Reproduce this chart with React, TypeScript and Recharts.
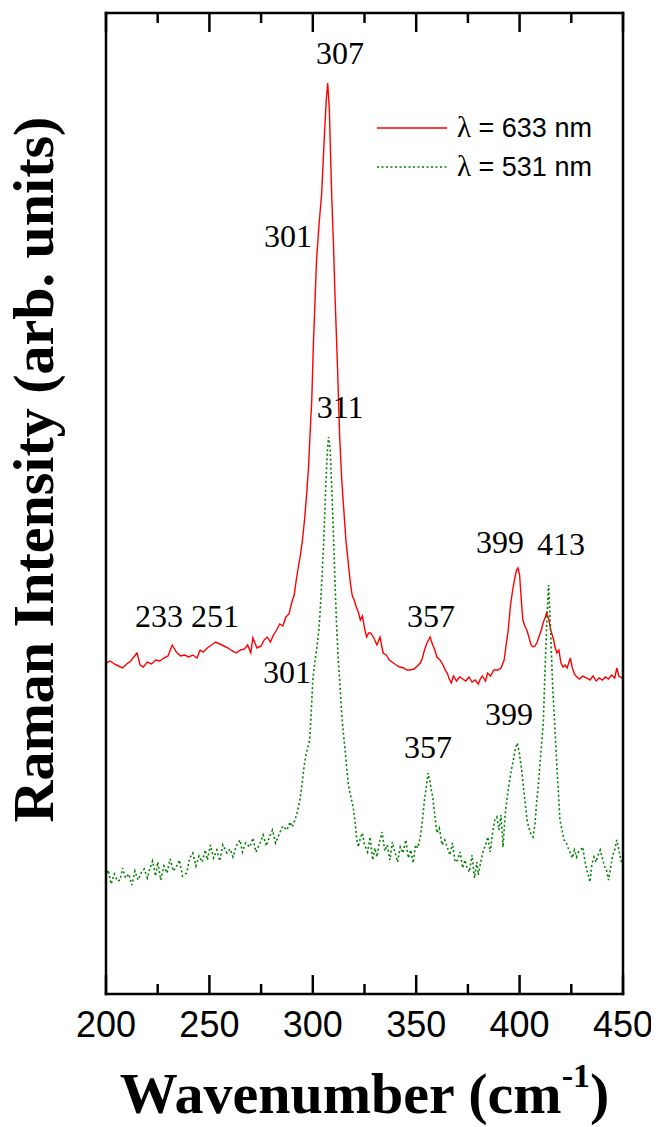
import React from 'react';
import { LineChart, Line, XAxis, YAxis, ReferenceDot, ReferenceArea, Legend } from 'recharts';

// ---- Data (wavenumber in cm^-1, intensity in arb. units) ----
const redWavenumber = [
  200, 202, 204, 206, 208, 210, 212, 213, 215, 216.5, 218, 220, 222, 224, 226, 228, 230, 232, 234, 236,
  238, 240, 242, 244, 245.5, 247, 249, 251, 253, 255, 257, 259, 261, 263, 265, 267, 268.5, 270, 271, 273,
  275, 276.5, 278, 279.5, 281, 282.5, 284, 285.5, 287, 288.5, 290, 291, 292, 293, 294, 295, 296, 297, 298, 298.6,
  299.5, 300.3, 301, 301.8, 303, 304.3, 305.5, 306.5, 307.2, 308, 309.1, 310, 310.7, 312, 313, 314, 315, 316, 317, 318,
  319, 320, 321, 322, 323, 324, 325, 326, 327, 328, 329.5, 331, 332.5, 334, 335.5, 337, 339, 341, 342, 344,
  345.5, 347, 349, 350.5, 352, 353, 354, 355, 356.7, 358, 359, 360, 361.5, 363, 364, 365, 366, 367, 368, 369.5,
  371, 372.5, 374, 375.5, 377, 378.5, 380, 381, 382, 383.5, 384.5, 386, 387.5, 389.5, 391, 392.5, 393.5, 394.5, 395.5, 396.5,
  397.5, 398.5, 399.2, 400, 401, 401.6, 402.5, 403.5, 404.5, 405.5, 406.5, 407.5, 408.5, 409.5, 410.5, 411.5, 412.5, 413, 414, 415,
  415.5, 416.5, 417, 418, 419, 420, 421, 422, 423, 424.5, 425.5, 426.5, 427.7, 429, 430.5, 432.5, 434, 435.5, 437, 438.5,
  440, 441.5, 443, 444.5, 446, 447, 448, 449.5, 450,
];
const redIntensity = [
  331, 333, 330, 328, 326, 330, 333, 336, 341, 329, 327, 332, 330, 334, 333, 336, 338, 349, 342, 338,
  339, 337, 339, 336, 344, 342, 346, 349, 352, 350, 348, 346, 343, 341, 344, 345, 349, 341, 356, 346,
  348, 354, 357, 352, 359, 364, 370, 368, 377, 380, 393, 399, 414, 427, 439, 454, 474, 499, 529, 557,
  594, 651, 689, 734, 769, 801, 854, 894, 911, 884, 801, 749, 701, 624, 557, 514, 484, 454, 434, 414,
  399, 394, 387, 382, 374, 378, 366, 357, 361, 361, 356, 349, 357, 341, 339, 334, 331, 328, 327, 326,
  324, 324, 325, 328, 331, 336, 344, 350, 357, 349, 344, 337, 334, 329, 324, 321, 315, 311, 318, 313,
  317, 315, 313, 317, 312, 314, 310, 315, 318, 313, 321, 318, 324, 324, 326, 334, 349, 364, 387, 402,
  414, 424, 426, 419, 389, 374, 368, 364, 357, 349, 347, 348, 352, 358, 364, 372, 377, 381, 376, 364,
  361, 354, 348, 341, 344, 331, 327, 329, 326, 336, 326, 320, 317, 315, 318, 316, 314, 318, 313, 316,
  314, 317, 315, 319, 316, 326, 318, 316, 317,
];

const greenWavenumber = [
  200, 201, 202.5, 204, 205.5, 206.8, 208, 209.5, 211, 212.5, 214, 215.5, 217, 218.5, 220, 221, 222.5, 224, 225, 226.5,
  228, 229.5, 231, 232.5, 234, 235.5, 237, 239, 240.5, 242, 243.5, 245, 246.5, 248, 249, 250.5, 252, 253.6, 255, 256.5,
  258.5, 260, 261.4, 263, 264.8, 266, 267.5, 269.6, 271, 272.5, 274.5, 276, 277.5, 279, 280.5, 282, 284, 285.5, 287.5, 289,
  290, 291.4, 292.5, 293.8, 295, 296, 297, 298.5, 299.3, 300, 301, 302, 303, 303.5, 304.4, 305.3, 306.2, 307, 307.6, 308.4,
  309.2, 310, 310.7, 311.5, 312.3, 313, 314, 315, 315.5, 316.5, 317.2, 318, 319.5, 320.5, 321.3, 322, 323, 324, 325, 326.5,
  327.7, 329, 330, 331, 332.2, 333.5, 334.8, 336, 337.3, 338.5, 339.8, 341, 342.3, 343.6, 345, 346.2, 347.4, 348.5, 349.7, 350.8,
  352, 353, 354, 355, 355.7, 356.5, 357.3, 358, 359, 360, 361.2, 362.5, 363.8, 365, 366.3, 367.5, 368.8, 370, 371.2, 372.5,
  373.6, 374.5, 375.7, 377, 378.2, 379.3, 380, 381.2, 382.5, 383.6, 384.6, 385.8, 387, 388, 389, 390, 391, 392, 393, 394,
  395, 396, 397, 398, 398.9, 399.8, 401, 402, 402.7, 403.6, 404.5, 405.5, 406.5, 407.5, 408.3, 409, 410, 411, 411.5, 412.3,
  413.2, 414, 414.8, 415.5, 416, 417, 418, 419.5, 420.5, 421.5, 422.5, 423.5, 424.5, 425.5, 426.5, 427.5, 428.5, 429.5, 430.5, 431.5,
  432.5, 433.2, 434, 435, 436, 437, 438, 439, 440, 441, 442, 443, 444, 445, 446, 447, 448, 449, 449.5, 450,
];
const greenIntensity = [
  117, 124, 110, 120, 113, 114, 126, 116, 120, 109, 123, 114, 121, 125, 116, 124, 133, 118, 132, 114,
  128, 121, 135, 123, 127, 134, 118, 121, 136, 141, 128, 138, 132, 144, 134, 149, 136, 144, 133, 149,
  141, 145, 137, 148, 154, 142, 151, 147, 156, 142, 151, 159, 148, 157, 164, 151, 161, 168, 164, 172,
  167, 174, 182, 194, 214, 231, 242, 254, 284, 314, 332, 347, 366, 381, 414, 454, 504, 542, 557, 544,
  504, 459, 414, 369, 334, 314, 279, 256, 247, 224, 209, 201, 187, 171, 154, 147, 156, 161, 149, 142,
  157, 134, 146, 137, 152, 162, 143, 149, 134, 152, 141, 132, 147, 141, 154, 136, 144, 131, 149, 146,
  157, 174, 194, 209, 221, 214, 204, 197, 179, 161, 166, 149, 154, 147, 139, 151, 132, 134, 142, 126,
  134, 127, 122, 139, 116, 132, 119, 132, 144, 149, 157, 142, 162, 174, 177, 164, 179, 147, 179, 197,
  211, 224, 234, 246, 251, 242, 224, 204, 191, 174, 166, 160, 157, 171, 194, 207, 234, 259, 274, 324,
  374, 409, 374, 334, 307, 269, 229, 174, 164, 154, 152, 146, 141, 136, 144, 137, 142, 144, 147, 134,
  124, 119, 112, 130, 137, 132, 139, 144, 136, 128, 124, 114, 126, 139, 144, 154, 144, 134, 131, 136,
];

const majorTicks = [200, 250, 300, 350, 400, 450];
const minorTicks = [225, 275, 325, 375, 425];
const seriesNames = ['\u03bb = 633 nm', '\u03bb = 531 nm'];
const annotations = [
  { w: 313.2, v: 930, text: '307' },
  { w: 288.0, v: 747, text: '301' },
  { w: 313.2, v: 576, text: '311' },
  { w: 225.6, v: 367, text: '233' },
  { w: 252.7, v: 367, text: '251' },
  { w: 287.5, v: 311, text: '301' },
  { w: 357.2, v: 367, text: '357' },
  { w: 390.5, v: 441, text: '399' },
  { w: 420.0, v: 439, text: '413' },
  { w: 394.9, v: 269, text: '399' },
  { w: 355.7, v: 236, text: '357' },
];

const redData = redWavenumber.map((w, i) => ({ w, v: redIntensity[i] }));
const greenData = greenWavenumber.map((w, i) => ({ w, v: greenIntensity[i] }));

const Y_MAX = 981;
const RED = '#ff0000';
const GREEN = '#008000';
const SERIF = '"Liberation Serif", "Times New Roman", serif';
const SANS = '"Liberation Sans", Arial, sans-serif';
const FRAME = { stroke: '#000', strokeWidth: 2.5, strokeLinecap: 'square' as const };

// inward tick marks: thin filled rectangles spanning a small band at the frame edges
const TICK_HALF = 0.6; // half tick width in axis units
const tickMarks = [
  ...majorTicks.map((t) => ({ t, len: 19 })),
  ...minorTicks.map((t) => ({ t, len: 10 })),
];

const MajorLabel = (props: any) => {
  const { x, y, payload } = props;
  return (
    <text x={x} y={y + 43} textAnchor="middle" fontFamily={SANS} fontSize={36} fill="#000">
      {payload.value}
    </text>
  );
};

const XTitle = (props: any) => {
  const vb = props.viewBox || {};
  const cx = vb.x + vb.width / 2;
  const y = vb.y + 119;
  return (
    <text x={cx} y={y} textAnchor="middle" fontFamily={SERIF} fontWeight="bold" fontSize={58} fill="#000">
      <tspan>Wavenumber (cm</tspan>
      <tspan fontSize={34} dy={-26}>-1</tspan>
      <tspan dy={26}>)</tspan>
    </text>
  );
};

const YTitle = (props: any) => {
  const vb = props.viewBox || {};
  const x = vb.x + vb.width - 53;
  const cy = vb.y + vb.height / 2 - 34;
  return (
    <text
      x={x}
      y={cy}
      transform={`rotate(-90, ${x}, ${cy})`}
      textAnchor="middle"
      fontFamily={SERIF}
      fontWeight="bold"
      fontSize={58}
      fill="#000"
    >
      Raman Intensity (arb. units)
    </text>
  );
};

const LegendContent = () => (
  <svg width={280} height={90} style={{ overflow: 'visible' }}>
    {seriesNames.map((name, i) => {
      const y = 25 + i * 39;
      return (
        <g key={name}>
          <line
            x1={9}
            x2={79}
            y1={y}
            y2={y}
            stroke={i === 0 ? RED : GREEN}
            strokeWidth={i === 0 ? 1.5 : 1.6}
            strokeDasharray={i === 0 ? undefined : '2 2.5'}
          />
          <text x={89} y={y + 9} fontFamily={SANS} fontSize={27} fill="#000">
            <tspan fontFamily={SERIF} fontSize={29}>{name.slice(0, 1)}</tspan>
            <tspan>{name.slice(1)}</tspan>
          </text>
        </g>
      );
    })}
  </svg>
);

export default function App() {
  return (
    <div style={{ width: 659, height: 1127, margin: '-8px 0 0 -8px' }}>
      <LineChart width={659} height={1127} margin={{ top: 12, right: 35, left: 105, bottom: 132 }}>
        <XAxis
          xAxisId="bottom"
          dataKey="w"
          type="number"
          domain={[200, 450]}
          ticks={majorTicks}
          interval={0}
          height={1}
          tickSize={0}
          tickMargin={0}
          axisLine={FRAME}
          tickLine={false}
          tick={<MajorLabel />}
          allowDataOverflow
          label={<XTitle />}
        />
        <XAxis
          xAxisId="top"
          orientation="top"
          dataKey="w"
          type="number"
          domain={[200, 450]}
          ticks={majorTicks}
          height={1}
          tickSize={0}
          axisLine={FRAME}
          tickLine={false}
          tick={false}
          allowDataOverflow
        />
        <YAxis
          yAxisId="left"
          type="number"
          domain={[0, Y_MAX]}
          width={1}
          axisLine={FRAME}
          tickLine={false}
          tick={false}
          allowDataOverflow
          label={<YTitle />}
        />
        <YAxis
          yAxisId="right"
          orientation="right"
          type="number"
          domain={[0, Y_MAX]}
          width={1}
          axisLine={FRAME}
          tickLine={false}
          tick={false}
          allowDataOverflow
        />
        <Legend
          layout="horizontal"
          verticalAlign="middle"
          align="center"
          content={<LegendContent />}
          wrapperStyle={{ position: 'absolute', left: 368, top: 103, width: 280, height: 90 }}
        />
        {tickMarks.map(({ t, len }) => (
          <ReferenceArea
            key={`b${t}`}
            xAxisId="bottom"
            yAxisId="left"
            x1={t - TICK_HALF}
            x2={t + TICK_HALF}
            y1={0}
            y2={len}
            fill="#000"
            fillOpacity={1}
            stroke="none"
            ifOverflow="visible"
          />
        ))}
        {tickMarks.map(({ t, len }) => (
          <ReferenceArea
            key={`t${t}`}
            xAxisId="bottom"
            yAxisId="left"
            x1={t - TICK_HALF}
            x2={t + TICK_HALF}
            y1={Y_MAX - len}
            y2={Y_MAX}
            fill="#000"
            fillOpacity={1}
            stroke="none"
            ifOverflow="visible"
          />
        ))}
        <Line
          xAxisId="bottom"
          yAxisId="left"
          data={redData}
          dataKey="v"
          name={seriesNames[0]}
          type="linear"
          stroke={RED}
          strokeWidth={1.4}
          dot={false}
          activeDot={false}
          isAnimationActive={false}
        />
        <Line
          xAxisId="bottom"
          yAxisId="left"
          data={greenData}
          dataKey="v"
          name={seriesNames[1]}
          type="linear"
          stroke={GREEN}
          strokeWidth={1.6}
          strokeDasharray="2 2.5"
          dot={false}
          activeDot={false}
          isAnimationActive={false}
        />
        {annotations.map((a, i) => (
          <ReferenceDot
            key={i}
            xAxisId="bottom"
            yAxisId="left"
            x={a.w}
            y={a.v}
            r={0}
            ifOverflow="visible"
            shape={(p: any) => (
              <text x={p.cx} y={p.cy} textAnchor="middle" fontFamily={SERIF} fontSize={32} fill="#000">
                {a.text}
              </text>
            )}
          />
        ))}
      </LineChart>
    </div>
  );
}
